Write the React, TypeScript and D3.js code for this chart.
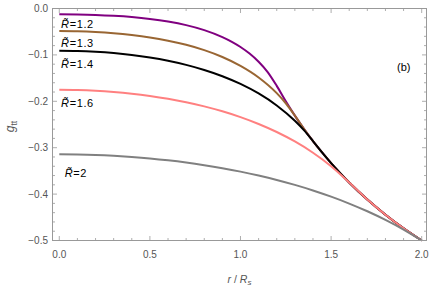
import React from "react";
import * as d3 from "d3";

// r / R_s sample positions and g_tt values
const rR12 = [0, 0.1, 0.2, 0.3, 0.4, 0.5, 0.6, 0.7, 0.8, 0.9, 0.95, 1.0, 1.05, 1.1, 1.15, 1.2, 1.25, 1.3, 1.35, 1.4, 1.45, 1.5, 1.55, 1.6, 1.7, 1.8, 1.9, 2.0];
const gR12 = [-0.0126, -0.0130, -0.0140, -0.0158, -0.0185, -0.0225, -0.0281, -0.0358, -0.0465, -0.0615, -0.0712, -0.0829, -0.0971, -0.1147, -0.1370, -0.1667, -0.2, -0.2308, -0.2593, -0.2857, -0.3103, -0.3333, -0.3548, -0.375, -0.4118, -0.4444, -0.4737, -0.5];

const rR13 = [0, 0.1, 0.2, 0.3, 0.4, 0.5, 0.6, 0.7, 0.8, 0.9, 1.0, 1.1, 1.2, 1.25, 1.3, 1.35, 1.4, 1.45, 1.5, 1.55, 1.6, 1.7, 1.8, 1.9, 2.0];
const gR13 = [-0.0487, -0.0492, -0.0507, -0.0533, -0.0572, -0.0624, -0.0694, -0.0783, -0.0898, -0.1045, -0.1236, -0.1486, -0.1824, -0.2042, -0.2308, -0.2593, -0.2857, -0.3103, -0.3333, -0.3548, -0.375, -0.4118, -0.4444, -0.4737, -0.5];

const rR14 = [0, 0.1, 0.2, 0.3, 0.4, 0.5, 0.6, 0.7, 0.8, 0.9, 1.0, 1.1, 1.2, 1.3, 1.35, 1.4, 1.45, 1.5, 1.55, 1.6, 1.7, 1.8, 1.9, 2.0];
const gR14 = [-0.0911, -0.0916, -0.0933, -0.0961, -0.1002, -0.1057, -0.1127, -0.1215, -0.1325, -0.1459, -0.1625, -0.1831, -0.2089, -0.2420, -0.2622, -0.2857, -0.3103, -0.3333, -0.3548, -0.375, -0.4118, -0.4444, -0.4737, -0.5];

const rR16 = [0, 0.1, 0.2, 0.3, 0.4, 0.5, 0.6, 0.7, 0.8, 0.9, 1.0, 1.1, 1.2, 1.3, 1.4, 1.5, 1.6, 1.7, 1.8, 1.9, 2.0];
const gR16 = [-0.1752, -0.1757, -0.1772, -0.1798, -0.1835, -0.1884, -0.1945, -0.2020, -0.2109, -0.2216, -0.2341, -0.2489, -0.2662, -0.2866, -0.3108, -0.3398, -0.375, -0.4118, -0.4444, -0.4737, -0.5];

const rR20 = [0, 0.1, 0.2, 0.3, 0.4, 0.5, 0.6, 0.7, 0.8, 0.9, 1.0, 1.1, 1.2, 1.3, 1.4, 1.5, 1.6, 1.7, 1.8, 1.9, 2.0];
const gR20 = [-0.3143, -0.3147, -0.3157, -0.3175, -0.3200, -0.3232, -0.3272, -0.3320, -0.3377, -0.3442, -0.3516, -0.3600, -0.3695, -0.3802, -0.3921, -0.4055, -0.4204, -0.4370, -0.4556, -0.4765, -0.5];

const seriesLabels = ["1.2", "1.3", "1.4", "1.6", "2"];
const seriesColors = ["#800080", "#996633", "#000000", "#ff8080", "#808080"];

const xTicks = [0, 0.5, 1.0, 1.5, 2.0];
const xTickLabels = ["0.0", "0.5", "1.0", "1.5", "2.0"];
const yTicks = [0, -0.1, -0.2, -0.3, -0.4, -0.5];
const yTickLabels = ["0.0", "\u22120.1", "\u22120.2", "\u22120.3", "\u22120.4", "\u22120.5"];

export default function App() {
  const W = 436, H = 288;
  const left = 52.5, right = 426.5, top = 8.5, bottom = 240.5;
  const x = d3.scaleLinear().domain([-0.0375, 2.0265]).range([left, right]);
  const y = d3.scaleLinear().domain([-0.5, 0]).range([bottom, top]);

  const series = [
    { r: rR12, g: gR12 },
    { r: rR13, g: gR13 },
    { r: rR14, g: gR14 },
    { r: rR16, g: gR16 },
    { r: rR20, g: gR20 },
  ];

  const line = d3
    .line<[number, number]>()
    .x((d) => x(d[0]))
    .y((d) => y(d[1]))
    .curve(d3.curveMonotoneX);

  const frameColor = "#999999";
  const labelColor = "#555555";
  const font = "'Liberation Sans', Arial, Helvetica, sans-serif";

  const xMinor = d3.range(0, 2.0001, 0.1);
  const yMinor = d3.range(0, 26).map((i) => -i * 0.02);

  const labelPos = [
    { lx: 0.01, ly: 28 },
    { lx: 0.01, ly: 47 },
    { lx: 0.01, ly: 68 },
    { lx: 0.01, ly: 107 },
    { lx: 0.03, ly: 177 },
  ];

  return (
    <svg width={W} height={H} style={{ position: "absolute", left: 0, top: 0, background: "#fff" }} fontFamily={font}>
      {/* curves */}
      {series.map((s, i) => (
        <path
          key={i}
          d={line(s.r.map((rv, k) => [rv, s.g[k]] as [number, number])) || ""}
          fill="none"
          stroke={seriesColors[i]}
          strokeWidth={2}
        />
      ))}
      {/* frame */}
      <rect x={left} y={top} width={right - left} height={bottom - top} fill="none" stroke={frameColor} strokeWidth={1} />
      {/* x ticks */}
      {xMinor.map((v, i) => {
        const major = Math.abs(v * 2 - Math.round(v * 2)) < 1e-6;
        const len = major ? 4.5 : 2.5;
        return (
          <g key={"xt" + i} stroke={frameColor} strokeWidth={0.8}>
            <line x1={x(v)} x2={x(v)} y1={bottom} y2={bottom - len} />
            <line x1={x(v)} x2={x(v)} y1={top} y2={top + len} />
          </g>
        );
      })}
      {yMinor.map((v, i) => {
        const major = i % 5 === 0;
        const len = major ? 4.5 : 2.5;
        return (
          <g key={"yt" + i} stroke={frameColor} strokeWidth={0.8}>
            <line x1={left} x2={left + len} y1={y(v)} y2={y(v)} />
            <line x1={right} x2={right - len} y1={y(v)} y2={y(v)} />
          </g>
        );
      })}
      {xTicks.map((v, i) => (
        <text key={"xl" + i} x={x(v)} y={258} textAnchor="middle" fontSize={10} fill={labelColor}>
          {xTickLabels[i]}
        </text>
      ))}
      {yTicks.map((v, i) => (
        <text key={"yl" + i} x={48} y={y(v) + 3.5} textAnchor="end" fontSize={10} fill={labelColor}>
          {yTickLabels[i]}
        </text>
      ))}
      {/* axis titles */}
      <text transform={`translate(14,${(top + bottom) / 2 + 2}) rotate(-90)`} textAnchor="middle" fontSize={12} fill={labelColor}>
        <tspan fontStyle="italic">g</tspan>
        <tspan fontSize={8.5} dy={2.5}>tt</tspan>
      </text>
      <text x={(left + right) / 2} y={283} textAnchor="middle" fontSize={10.5} fill={labelColor}>
        <tspan fontStyle="italic">r</tspan>
        <tspan> / </tspan>
        <tspan fontStyle="italic">R</tspan>
        <tspan fontStyle="italic" fontSize={8} dy={2}>s</tspan>
      </text>
      {/* curve labels */}
      {seriesLabels.map((lab, i) => (
        <text key={"cl" + i} x={x(labelPos[i].lx)} y={labelPos[i].ly} fontSize={11} letterSpacing={0.6} fill="#000">
          <tspan fontStyle="italic">{"R\u0303"}</tspan>
          <tspan>{"=" + lab}</tspan>
        </text>
      ))}
      <text x={397} y={71} fontSize={11} fill="#000">(b)</text>
    </svg>
  );
}
